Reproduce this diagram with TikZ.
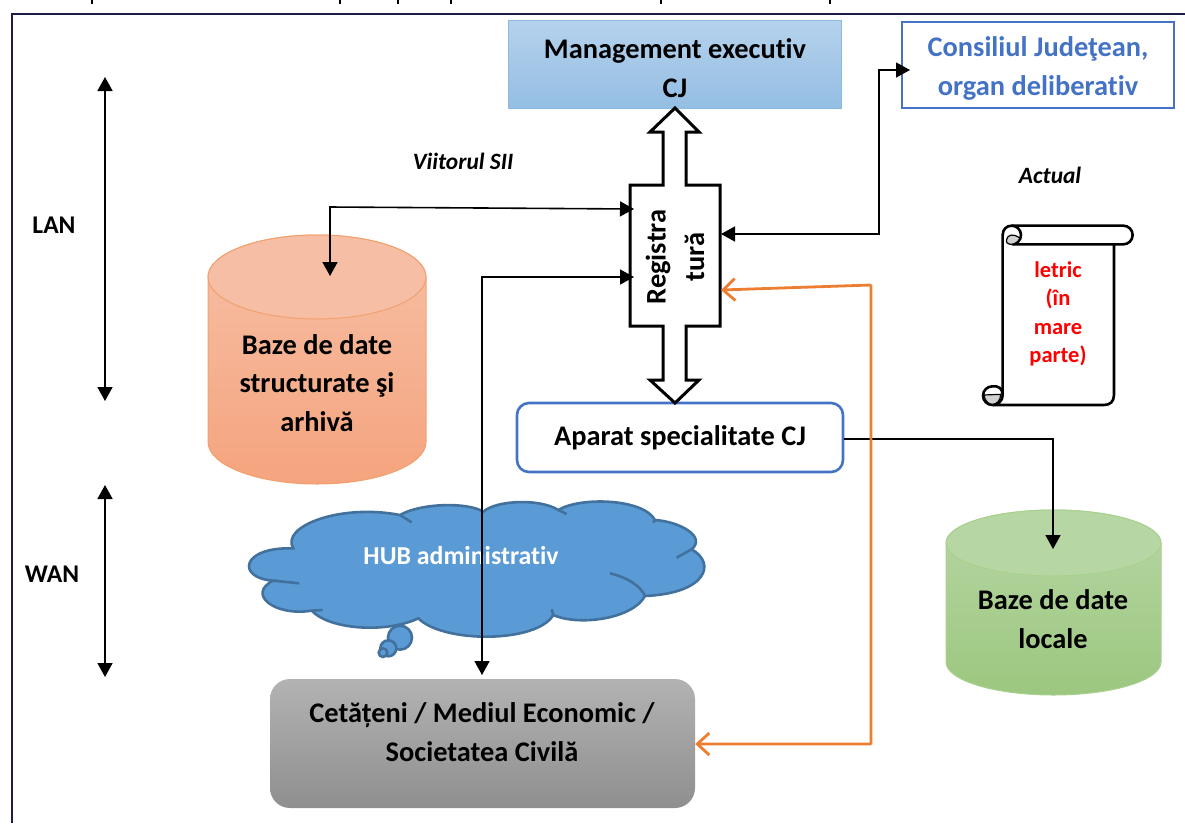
\documentclass[tikz,border=0pt]{standalone}
\usepackage{fontspec}
\setmainfont[Ligatures=NoCommon]{Carlito}
\usepackage{tikz}
\usetikzlibrary{arrows.meta}
\definecolor{cloudfill}{HTML}{5B9BD5}
\definecolor{cloudline}{HTML}{41719C}
\definecolor{accentblue}{HTML}{4472C4}
\definecolor{accentorange}{HTML}{ED7D31}
\definecolor{arhivatop}{HTML}{F6BFA5}
\definecolor{arhivabottom}{HTML}{F5A47E}
\definecolor{arhivaline}{HTML}{F2A06E}
\definecolor{localetop}{HTML}{B6D6A4}
\definecolor{localebottom}{HTML}{9CC77F}
\definecolor{localeline}{HTML}{A9D18E}
\definecolor{framenavy}{HTML}{1C1C4A}
\tikzset{
  boxtext/.style={font=\fontsize{28.4}{38.5}\selectfont\bfseries,align=center,inner sep=0pt},
  plainlabel/.style={font=\fontsize{25.5}{28}\selectfont\bfseries,inner sep=0pt},
  notelabel/.style={font=\fontsize{23.4}{28}\selectfont\bfseries\itshape,inner sep=0pt},
  scrolltext/.style={font=\fontsize{22.5}{28.3}\selectfont\bfseries,align=center,text=red,inner sep=0pt},
  link/.style={line width=1.6pt,line join=miter,-{Triangle[length=14pt,width=15pt]}},
  linkboth/.style={line width=1.6pt,{Triangle[length=14pt,width=15pt]}-{Triangle[length=14pt,width=15pt]}},
  linkorange/.style={line width=2.8pt,accentorange,{Straight Barb[length=12pt,width=22pt,line width=2.8pt]}-{Straight Barb[length=12pt,width=22pt,line width=2.8pt]}},
  scrollline/.style={line width=2.6pt,line join=round},
  cloudpart/.style={line width=2.6pt,cloudline},
}
\begin{document}
\begin{tikzpicture}[x=1pt,y=-1pt]
\useasboundingbox (0,0) rectangle (1185,823);
\draw[line width=2pt,framenavy] (12,823) -- (12,14) -- (1185,14);
\foreach \xtop in {92,340,398,451,661,830}
  \draw[line width=2.2pt] (\xtop,0) -- (\xtop,4);

\node[minimum width=333pt,minimum height=88pt,draw=cloudfill!70!white,line width=1pt,top color=cloudfill!45!white,bottom color=cloudfill!65!white] (management) at (674.5,64) {};
\node[boxtext] (managementtext) at (675,68) {Management executiv\\CJ};
\node[minimum width=272pt,minimum height=86pt,draw=accentblue,line width=2.4pt] (consiliu) at (1038,65) {};
\node[text=accentblue,boxtext] (consiliutext) at (1038,68.5) {Consiliul Judeţean,\\organ deliberativ};
\node[minimum width=326pt,minimum height=69pt,draw=accentblue,line width=2.6pt,rounded corners=12pt,fill=white,boxtext] (aparat) at (680,437.5) {Aparat specialitate CJ};
\node[minimum width=425pt,minimum height=129pt,rounded corners=20pt,top color=black!30,bottom color=black!44] (cetateni) at (482.5,743.5) {};
\node[boxtext] (cetatenitext) at (482,732) {Cetățeni / Mediul Economic /\\Societatea Civilă};

\draw[line width=3pt,fill=white,line join=miter] (675,108) -- (699,132) -- (686,132) -- (686,185) -- (720,185) -- (720,326) -- (686,326) -- (686,380) -- (699,380) -- (675,403) -- (650,380) -- (663,380) -- (663,326) -- (630,326) -- (630,185) -- (663,185) -- (663,132) -- (650,132) -- cycle;
\node[boxtext,rotate=90] (registratura) at (675,257) {Registra\\tură};

\path[top color=arhivatop,bottom color=arhivabottom,draw=arhivaline,line width=1pt] (208,277) -- (208,442) arc[start angle=180,end angle=360,x radius=109pt,y radius=42pt] -- (426,277) arc[start angle=0,end angle=180,x radius=109pt,y radius=42pt] -- cycle;
\draw[draw=arhivaline,line width=1pt,fill=arhivatop] (317,277) ellipse[x radius=109pt,y radius=42pt];
\node[boxtext] (bazearhiva) at (317,383) {Baze de date\\structurate şi\\arhivă};

\path[top color=localetop,bottom color=localebottom,draw=localeline,line width=1pt] (946,543) -- (946,662) arc[start angle=180,end angle=360,x radius=107.5pt,y radius=33pt] -- (1161,543) arc[start angle=0,end angle=180,x radius=107.5pt,y radius=33pt] -- cycle;
\draw[draw=localeline,line width=1pt,fill=localetop] (1053.5,543) ellipse[x radius=107.5pt,y radius=33pt];
\node[boxtext] (bazelocale) at (1053,619) {Baze de date\\locale};

\begin{scope}[shift={(230,490)},x=0.3333pt,y=-0.3333pt]
\filldraw[cloudpart,fill=cloudfill] (190,175)
  .. controls (150,110) and (330,40) .. (510,75)
  .. controls (570,40) and (710,35) .. (760,65)
  .. controls (800,30) and (930,25) .. (985,60)
  .. controls (1050,20) and (1240,25) .. (1275,90)
  .. controls (1350,95) and (1430,140) .. (1385,178)
  .. controls (1460,220) and (1430,310) .. (1245,318)
  .. controls (1210,385) and (1050,410) .. (970,375)
  .. controls (920,460) and (640,460) .. (565,385)
  .. controls (470,430) and (300,420) .. (245,362)
  .. controls (130,380) and (50,310) .. (130,272)
  .. controls (20,265) and (30,170) .. cycle;
\draw[cloudpart] (510,75) -- (545,97);
\draw[cloudpart] (985,60) -- (1010,72);
\draw[cloudpart] (1385,178) -- (1340,203);
\draw[cloudpart] (1140,250) .. controls (1190,262) and (1230,285) .. (1245,318);
\draw[cloudpart] (970,375) -- (965,358);
\draw[cloudpart] (245,362) -- (278,360);
\draw[cloudpart] (130,272) -- (208,280);
\draw[cloudpart] (1275,90) -- (1270,98);
\filldraw[cloudpart,fill=cloudfill] (510,443) circle[radius=12pt];
\filldraw[cloudpart,fill=cloudfill] (475,475) circle[radius=8pt];
\filldraw[cloudpart,fill=cloudfill] (459,488) circle[radius=4.3pt];
\end{scope}
\node[boxtext,text=white,font=\fontsize{25.8}{28}\selectfont\bfseries] (hub) at (461,556) {HUB administrativ};

\begin{scope}[shift={(960,210)},x=0.3333pt,y=-0.3333pt]
\path[fill=white] (128,75) -- (462,103) -- (462,585) -- (128,585) -- cycle;
\draw[scrollline] (128,555) -- (128,75) .. controls (128,58) and (140,47) .. (155,47) -- (490,47) arc[start angle=90,end angle=-90,radius=9.33pt] -- (158,103);
\draw[scrollline] (462,103) -- (462,555) .. controls (462,575) and (450,585) .. (432,585) -- (97,585);
\draw[scrollline] (155,47) arc[start angle=90,end angle=-90,radius=9.33pt];
\draw[line width=1.2pt,fill=black!18] (140,88) .. controls (142,75) and (160,68) .. (180,85) .. controls (172,100) and (160,103) .. (150,103) .. controls (142,103) and (138,97) .. cycle;
\draw[scrollline,fill=white] (97,585) arc[start angle=270,end angle=90,radius=9.33pt] .. controls (115,527) and (128,535) .. (128,555) .. controls (128,572) and (115,585) .. (97,585);
\draw[line width=1.2pt,fill=black!18] (72,555) -- (122,553) .. controls (122,572) and (110,583) .. (97,583) .. controls (85,583) and (74,572) .. cycle;
\end{scope}
\node[scrolltext] (letric) at (1058,314) {letric\\(în\\mare\\parte)};

\node[plainlabel] (lan) at (54,225) {LAN};
\node[plainlabel] (wan) at (52,574) {WAN};
\node[notelabel] (viitorul) at (463,161) {Viitorul SII};
\node[notelabel] (actual) at (1050,175) {Actual};

\coordinate (lantop) at (105,77);
\coordinate (lanbottom) at (105,401);
\coordinate (wantop) at (105,485);
\coordinate (wanbottom) at (105,677);
\coordinate (regleftup) at (634,209);
\coordinate (regleftdown) at (634,277);
\coordinate (regright) at (721,234);
\coordinate (regorange) at (721,290);
\coordinate (cornerorange) at (871,285);
\coordinate (cornerbaze) at (330,207);
\coordinate (bazetop) at (330,276);
\coordinate (cetatenitop) at (482,675);
\coordinate (consiliuleft) at (910,70);
\coordinate (locale) at (1053,549);

\draw[linkboth] (lantop) -- (lanbottom);
\draw[linkboth] (wantop) -- (wanbottom);
\draw[linkboth] (bazetop) -- (cornerbaze) -- (regleftup);
\draw[linkboth] (cetatenitop) |- (regleftdown);
\draw[linkboth] (regright) -| (879,70) -- (consiliuleft);
\draw[link] (aparat.east |- 0,439) -| (locale);
\draw[linkorange,rounded corners=1pt] (regorange) -- (cornerorange) |- (cetateni.east |- 0,744);
\end{tikzpicture}
\end{document}
